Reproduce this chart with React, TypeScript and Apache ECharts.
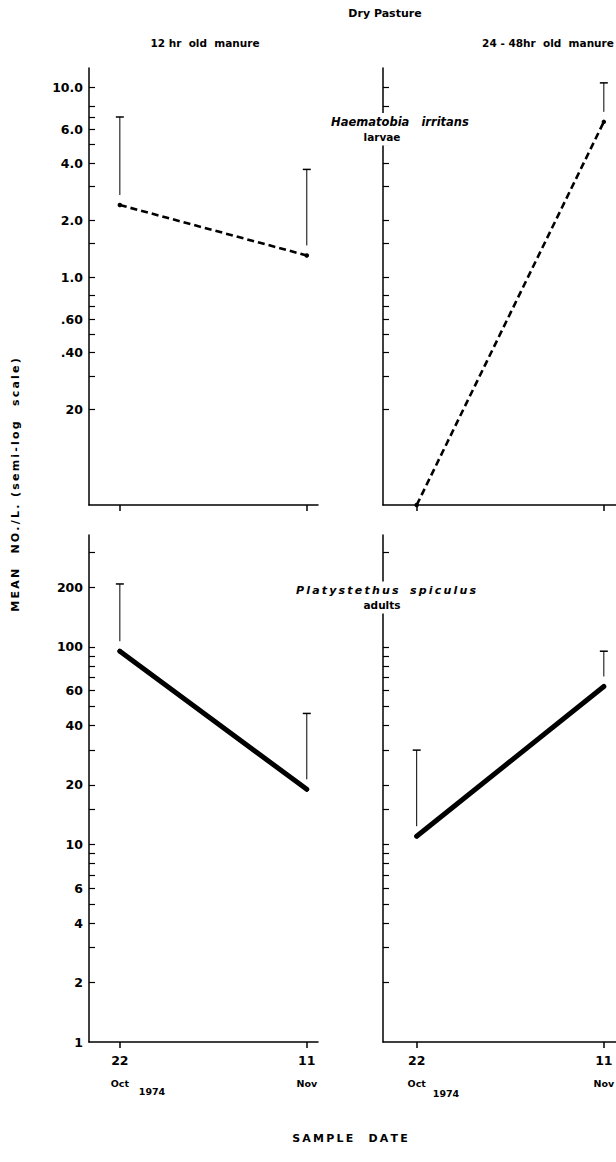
import React, { useEffect, useRef } from "react";
import * as echarts from "echarts";

// ---------- data ----------
const DATE_LABELS = ["22", "11"];
const MONTH_LABELS = ["Oct", "Nov"];
const YEAR_LABEL = "1974";
const DAYS = [0, 20]; // days after 22 Oct 1974

const TOP_TICKS = [10, 8, 7, 6, 5, 4, 3, 2, 1.5, 1, 0.8, 0.7, 0.6, 0.5, 0.4, 0.3, 0.2];
const TOP_LABEL_VALUES = [10, 6, 4, 2, 1, 0.6, 0.4, 0.2];
const TOP_LABELS = ["10.0", "6.0", "4.0", "2.0", "1.0", ".60", ".40", "20"];
const BOTTOM_TICKS = [300, 200, 100, 90, 80, 70, 60, 50, 40, 30, 20, 15, 10, 9, 8, 7, 6, 5, 4, 3, 2];
const BOTTOM_LABEL_VALUES = [200, 100, 60, 40, 20, 10, 6, 4, 2, 1];
const BOTTOM_LABELS = ["200", "100", "60", "40", "20", "10", "6", "4", "2", "1"];

// Haematobia irritans larvae
const larvae12Mean = [2.4, 1.3];
const larvae12Upper = [7.0, 3.7];
const larvae2448Mean = [0, 6.6];
const larvae2448Upper = [null, 10.6];
// Platystethus spiculus adults
const adults12Mean = [95, 19];
const adults12Upper = [208, 46];
const adults2448Mean = [11, 63];
const adults2448Upper = [30, 95];

const TOP_RANGE = [0.0625, 12.7];
const BOTTOM_RANGE = [1, 368];

const FONT = "DejaVu Sans";
const lg = (v: number) => Math.log10(v);
const spaced = (s: string) => s.split("").join("\u2009");

function labelFor(values: number[], labels: string[]) {
  return (v: number) => {
    for (let i = 0; i < values.length; i++) {
      if (Math.abs(lg(values[i]) - v) < 1e-6) return labels[i];
    }
    return "";
  };
}

export default function App() {
  const ref = useRef<HTMLDivElement>(null);
  useEffect(() => {
    if (!ref.current) return;
    const chart = echarts.init(ref.current, undefined, { renderer: "svg" });

    const grids = [
      { left: 89, top: 68, width: 229, height: 437 },
      { left: 383, top: 68, width: 233, height: 437 },
      { left: 89, top: 535, width: 229, height: 507 },
      { left: 383, top: 535, width: 233, height: 507 },
    ].map((g) => ({ ...g, containLabel: false, outerBoundsMode: "none" }));

    const xRanges = [
      [-3.3, 21.2],
      [-3.6, 21.3],
      [-3.3, 21.2],
      [-3.6, 21.3],
    ];
    const xAxes = xRanges.map((r, i) => {
      const bottom = i >= 2;
      return {
        type: "value",
        gridIndex: i,
        min: r[0],
        max: r[1],
        splitLine: { show: false },
        axisLine: { show: true, onZero: false, lineStyle: { color: "#000", width: 1.5 } },
        axisTick: { show: true, customValues: DAYS, length: 6, inside: false, lineStyle: { color: "#000", width: 1.5 } },
        axisLabel: {
          show: bottom,
          customValues: DAYS,
          margin: 10,
          color: "#000",
          formatter: (v: number) => {
            const k = DAYS.indexOf(Math.round(v));
            return k < 0 ? "" : `{d|${DATE_LABELS[k]}}\n{m|${MONTH_LABELS[k]}}`;
          },
          rich: {
            d: { fontFamily: FONT, fontWeight: "bold", fontSize: 12.5, lineHeight: 16, color: "#000" },
            m: { fontFamily: FONT, fontWeight: "bold", fontSize: 9.5, lineHeight: 30, color: "#000" },
          },
        },
      };
    });

    const yAxes = [0, 1, 2, 3].map((i) => {
      const top = i < 2;
      const range = top ? TOP_RANGE : BOTTOM_RANGE;
      const ticks = top ? TOP_TICKS : BOTTOM_TICKS;
      const lv = top ? TOP_LABEL_VALUES : BOTTOM_LABEL_VALUES;
      const ll = top ? TOP_LABELS : BOTTOM_LABELS;
      return {
        type: "value",
        gridIndex: i,
        min: lg(range[0]),
        max: lg(range[1]),
        splitLine: { show: false },
        axisLine: { show: true, onZero: false, lineStyle: { color: "#000", width: 1.5 } },
        axisTick: { show: true, customValues: ticks.map(lg), inside: true, length: 6, lineStyle: { color: "#000", width: 1.2 } },
        axisLabel: {
          show: i % 2 === 0,
          customValues: lv.map(lg),
          formatter: labelFor(lv, ll),
          margin: 6,
          color: "#000",
          fontFamily: FONT,
          fontWeight: "bold",
          fontSize: 12.5,
        },
      };
    });

    const panels = [
      { mean: larvae12Mean, upper: larvae12Upper, range: TOP_RANGE, top: true },
      { mean: larvae2448Mean, upper: larvae2448Upper, range: TOP_RANGE, top: true },
      { mean: adults12Mean, upper: adults12Upper, range: BOTTOM_RANGE, top: false },
      { mean: adults2448Mean, upper: adults2448Upper, range: BOTTOM_RANGE, top: false },
    ];

    const series: any[] = [];
    panels.forEach((p, i) => {
      const toY = (v: number) => (v <= 0 ? lg(p.range[0]) : lg(v));
      series.push({
        type: "line",
        xAxisIndex: i,
        yAxisIndex: i,
        data: DAYS.map((d, k) => [d, toY(p.mean[k])]),
        symbol: "circle",
        symbolSize: 4.5,
        itemStyle: { color: "#000" },
        lineStyle: p.top
          ? { color: "#000", width: 2.6, type: [7, 4] }
          : { color: "#000", width: 5, type: "solid", cap: "round" },
        z: 3,
      });
      const errData = DAYS.map((d, k) => (p.upper[k] == null ? null : [d, toY(p.mean[k]), lg(p.upper[k] as number)])).filter(
        (x) => x !== null
      );
      series.push({
        type: "custom",
        xAxisIndex: i,
        yAxisIndex: i,
        data: errData,
        encode: { x: 0, y: [1, 2] },
        renderItem: (_params: any, api: any) => {
          const x = api.value(0);
          const pm = api.coord([x, api.value(1)]);
          const pu = api.coord([x, api.value(2)]);
          return {
            type: "group",
            children: [
              { type: "line", shape: { x1: pm[0], y1: pm[1] - 10, x2: pm[0], y2: pu[1] }, style: { stroke: "#000", lineWidth: 1 } },
              { type: "line", shape: { x1: pm[0] - 4, y1: pu[1], x2: pm[0] + 4, y2: pu[1] }, style: { stroke: "#000", lineWidth: 1.5 } },
            ],
          };
        },
        z: 4,
      });
    });

    const txt = (text: string, x: number, y: number, size: number, extra: any = {}) => ({
      type: "text",
      x,
      y,
      z: 100,
      style: {
        text,
        fill: "#000",
        font: `${extra.italic ? "italic " : ""}bold ${size}px "${FONT}"`,
        textAlign: "center",
        textVerticalAlign: "middle",
        ...(extra.bg ? { backgroundColor: "#fff", padding: [3, 3] } : {}),
      },
      ...(extra.rotation ? { rotation: extra.rotation } : {}),
    });

    const graphic = [
      txt("Dry Pasture", 385, 13, 11),
      txt("12 hr  old  manure", 205, 43, 10.5),
      txt("24 - 48hr  old  manure", 548, 43, 10.5),
      txt("Haematobia   irritans", 400, 122, 11.5, { italic: true, bg: true }),
      txt("larvae", 382, 137, 10.5, { bg: true }),
      txt(spaced("Platystethus") + "   " + spaced("spiculus"), 386, 590, 11, { italic: true, bg: true }),
      txt("adults", 382, 605, 10.5, { bg: true }),
      txt(YEAR_LABEL, 152, 1091, 9.5),
      txt(YEAR_LABEL, 446, 1093, 9.5),
      txt(spaced("SAMPLE") + "    " + spaced("DATE"), 350, 1138, 11),
      txt(
        spaced("MEAN") + "    " + spaced("NO./L.") + "  " + spaced("(semi-log") + "    " + spaced("scale)"),
        15,
        485,
        11,
        { rotation: Math.PI / 2 }
      ),
    ];

    chart.setOption({
      animation: false,
      backgroundColor: "#fff",
      grid: grids,
      xAxis: xAxes,
      yAxis: yAxes,
      series,
      graphic,
    });
    return () => chart.dispose();
  }, []);
  return <div ref={ref} style={{ position: "absolute", left: 0, top: 0, width: 616, height: 1162 }} />;
}
